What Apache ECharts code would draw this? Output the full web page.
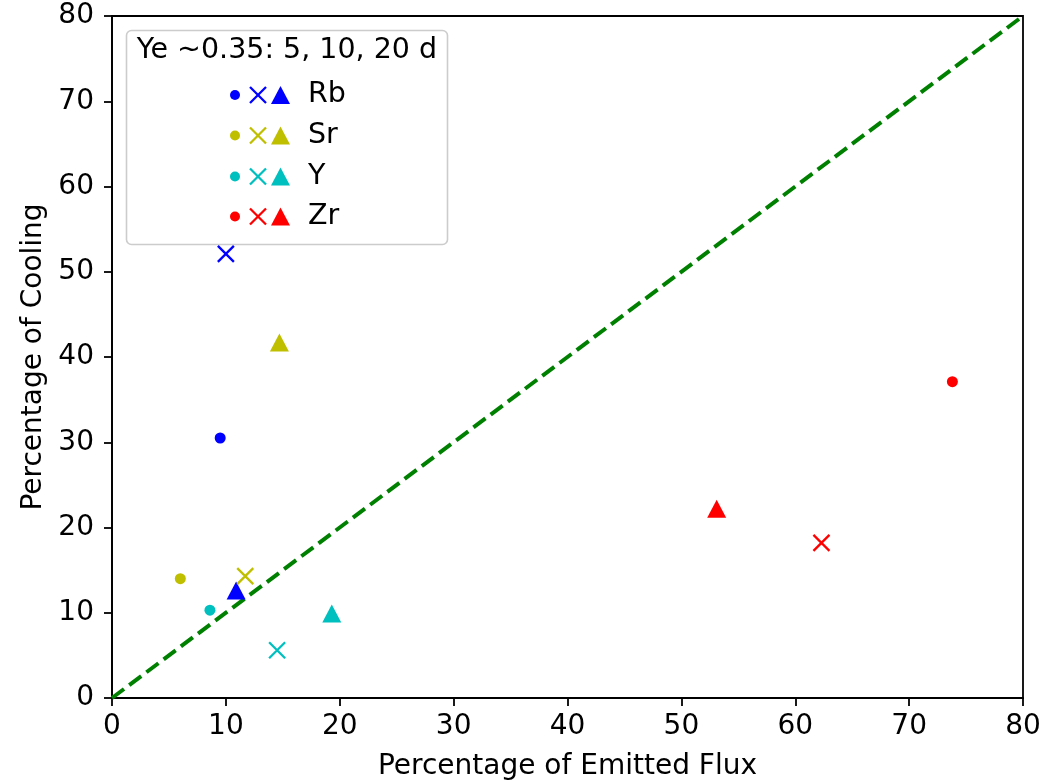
<!DOCTYPE html>
<html>
<head>
<meta charset="utf-8">
<script src="https://cdn.jsdelivr.net/npm/echarts@6/dist/echarts.min.js"></script>
<style>
  html, body { margin: 0; padding: 0; background: #fff; }
  #chart { width: 1052px; height: 780px; }
</style>
</head>
<body>
<div id="chart"></div>
<script>
// Elements and their share of emitted flux vs. share of cooling (%), at 5, 10 and 20 days
const elements = ['Rb', 'Sr', 'Y', 'Zr'];
const days = [5, 10, 20];

const flux5d    = [9.5, 6.0, 8.6, 73.8];
const cooling5d = [30.5, 14.0, 10.3, 37.1];

const flux10d    = [10.0, 11.7, 14.5, 62.3];
const cooling10d = [52.1, 14.3, 5.6, 18.2];

const flux20d    = [10.9, 14.7, 19.3, 53.1];
const cooling20d = [12.6, 41.7, 9.9, 22.2];

const axisTicks = [0, 10, 20, 30, 40, 50, 60, 70, 80];
const legendTitle = 'Ye ~0.35: 5, 10, 20 d';

const elementColors = ['#0000ff', '#bfbf00', '#00bfbf', '#ff0000'];
const FONT = 'DejaVu Sans';
const CROSS = 'path://M0,0L10,10M0,10L10,0';

const dayData = [
  [flux5d, cooling5d],
  [flux10d, cooling10d],
  [flux20d, cooling20d]
];

function markerFor(dayIdx, color) {
  if (dayIdx === 0) {
    return { symbol: 'circle', symbolSize: 11, itemStyle: { color: color, opacity: 1 } };
  }
  if (dayIdx === 1) {
    return {
      symbol: CROSS, symbolSize: 16,
      itemStyle: { color: 'none', borderColor: color, borderWidth: 2.3, opacity: 1 }
    };
  }
  return { symbol: 'triangle', symbolSize: [19, 18], itemStyle: { color: color, opacity: 1 } };
}

const series = [{
  type: 'line',
  data: [[axisTicks[0], axisTicks[0]], [axisTicks[axisTicks.length - 1], axisTicks[axisTicks.length - 1]]],
  symbol: 'none',
  silent: true,
  z: 1,
  lineStyle: { color: '#008000', width: 4, type: [15, 6.5] }
}];

elements.forEach(function (el, i) {
  days.forEach(function (d, k) {
    const m = markerFor(k, elementColors[i]);
    series.push(Object.assign({
      name: el + ' ' + d + ' d',
      type: 'scatter',
      z: 3,
      data: [[dayData[k][0][i], dayData[k][1][i]]]
    }, m));
  });
});

// legend box: one row per element with its 5/10/20 d markers
const legendRows = [];
const rowY = [95, 135.5, 176.5, 216.5];
elements.forEach(function (el, i) {
  const c = elementColors[i];
  const y = rowY[i];
  legendRows.push(
    { type: 'circle', shape: { cx: 235, cy: y, r: 5 }, style: { fill: c } },
    { type: 'line', shape: { x1: 250, y1: y - 8, x2: 266, y2: y + 8 }, style: { stroke: c, lineWidth: 2.3 } },
    { type: 'line', shape: { x1: 250, y1: y + 8, x2: 266, y2: y - 8 }, style: { stroke: c, lineWidth: 2.3 } },
    { type: 'polygon', shape: { points: [[280.5, y - 9], [271, y + 9], [290, y + 9]] }, style: { fill: c } },
    { type: 'text', x: 308, y: y, style: { text: el, fontFamily: FONT, fontSize: 28.5, fill: '#000', textVerticalAlign: 'middle', verticalAlign: 'middle' } }
  );
});

const chart = echarts.init(document.getElementById('chart'), null, { renderer: 'canvas' });
chart.setOption({
  animation: false,
  backgroundColor: '#fff',
  textStyle: { fontFamily: FONT },
  grid: {
    left: 112, right: 29, top: 16, bottom: 82,
    outerBoundsMode: 'none', containLabel: false,
    show: true, borderColor: '#000', borderWidth: 1.8, backgroundColor: 'transparent'
  },
  xAxis: {
    type: 'value',
    min: axisTicks[0], max: axisTicks[axisTicks.length - 1], interval: 10,
    name: 'Percentage of Emitted Flux',
    nameLocation: 'middle', nameGap: 55,
    nameTextStyle: { fontFamily: FONT, fontSize: 28, color: '#000' },
    axisLine: { show: true, lineStyle: { color: '#000', width: 1.8 } },
    axisTick: { show: true, inside: false, length: 8, lineStyle: { color: '#000', width: 1.8 } },
    axisLabel: { fontFamily: FONT, fontSize: 28, color: '#000', margin: 15 },
    splitLine: { show: false }
  },
  yAxis: {
    type: 'value',
    min: axisTicks[0], max: axisTicks[axisTicks.length - 1], interval: 10,
    name: 'Percentage of Cooling',
    nameLocation: 'middle', nameGap: 64,
    nameTextStyle: { fontFamily: FONT, fontSize: 28, color: '#000' },
    axisLine: { show: true, lineStyle: { color: '#000', width: 1.8 } },
    axisTick: { show: true, inside: false, length: 8, lineStyle: { color: '#000', width: 1.8 } },
    axisLabel: { fontFamily: FONT, fontSize: 28, color: '#000', margin: 18 },
    splitLine: { show: false }
  },
  series: series,
  graphic: [{
    type: 'group',
    z: 100,
    children: [
      { type: 'rect', shape: { x: 126.5, y: 30.5, width: 321, height: 214, r: 5 },
        style: { fill: 'rgba(255,255,255,0.8)', stroke: '#cccccc', lineWidth: 1.6 } },
      { type: 'text', x: 287, y: 51,
        style: { text: legendTitle, fontFamily: FONT, fontSize: 28.5, fill: '#000',
                 textAlign: 'center', align: 'center', textVerticalAlign: 'middle', verticalAlign: 'middle' } }
    ].concat(legendRows)
  }]
});
</script>
</body>
</html>
